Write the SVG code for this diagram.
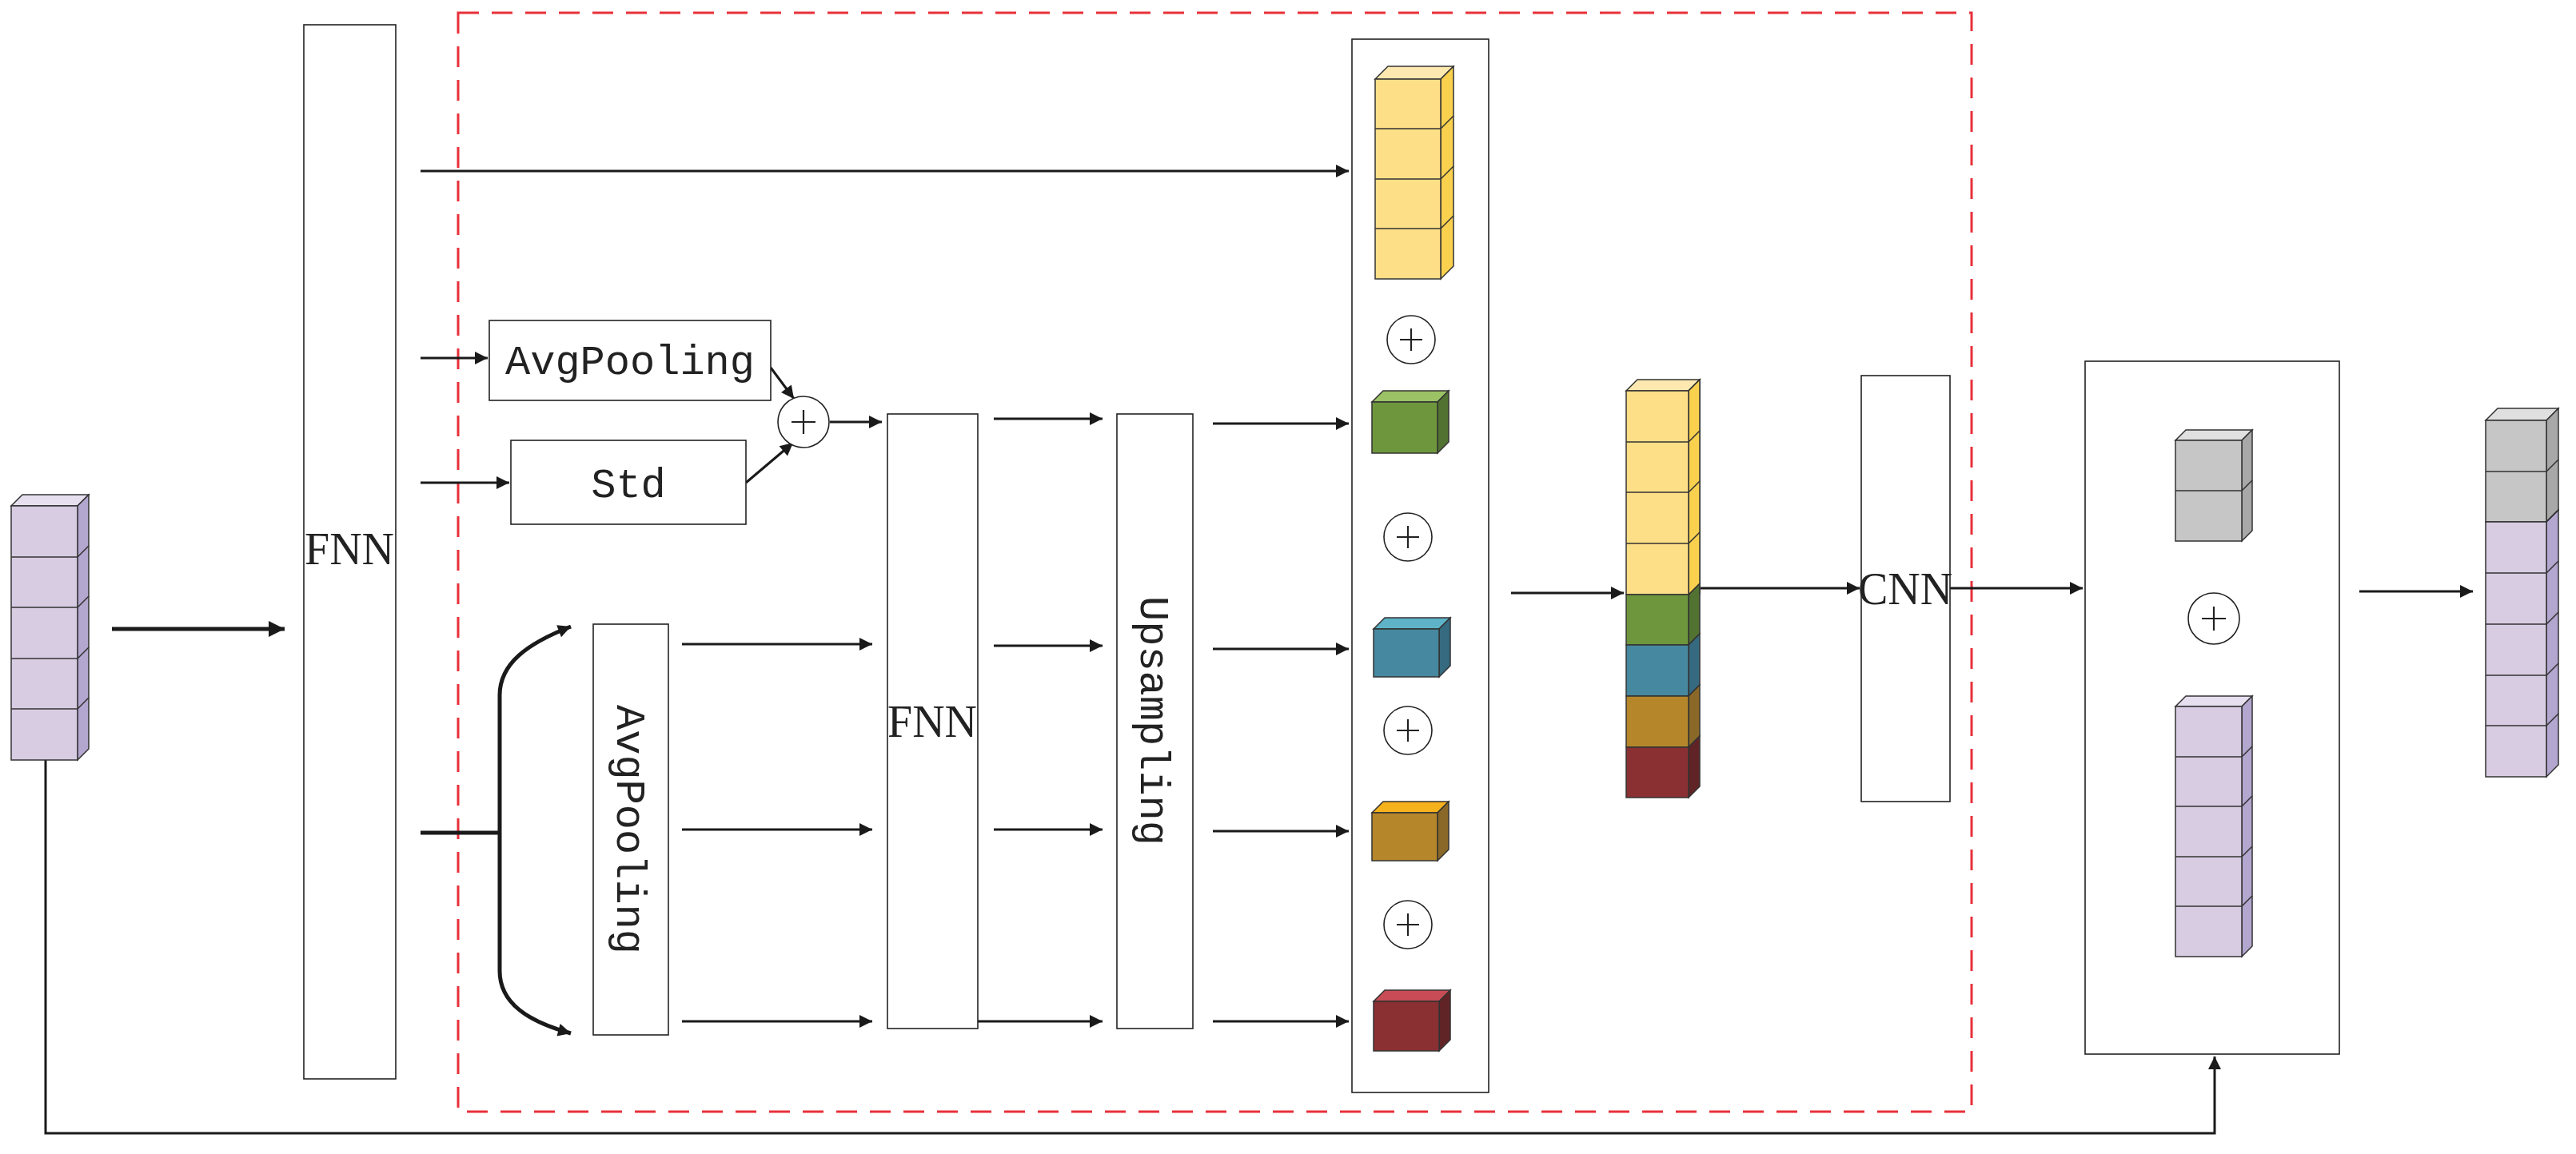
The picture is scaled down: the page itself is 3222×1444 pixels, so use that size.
<svg xmlns="http://www.w3.org/2000/svg" width="3222" height="1444" viewBox="0 0 3222 1444">
<style>
.box{fill:#fff;stroke:#222;stroke-width:1.6}
.ln{fill:none;stroke:#1a1a1a;stroke-width:3}
.thick{fill:none;stroke:#1a1a1a;stroke-width:5}
.cell{stroke:#333;stroke-width:1.5}
.t{font-family:"Liberation Mono",monospace;font-size:52px;fill:#222}
.s{font-family:"Liberation Serif",serif;font-size:56px;fill:#222}
.pl{fill:#fff;stroke:#222;stroke-width:1.6}
.pls{stroke:#222;stroke-width:2.2}
</style>
<defs>
<marker id="ah" viewBox="0 0 10 10" refX="10" refY="5" markerWidth="8" markerHeight="6" markerUnits="userSpaceOnUse" orient="auto" style="overflow:visible">
<path d="M0,0 L10,5 L0,10 z" fill="#1a1a1a"/>
</marker>
<marker id="a" viewBox="0 0 10 10" refX="10" refY="5" markerWidth="24" markerHeight="16" markerUnits="userSpaceOnUse" orient="auto">
<path d="M0,0 L10,5 L0,10 z" fill="#1a1a1a"/>
</marker>
<marker id="ab" viewBox="0 0 10 10" refX="10" refY="5" markerWidth="30" markerHeight="20" markerUnits="userSpaceOnUse" orient="auto">
<path d="M0,0 L10,5 L0,10 z" fill="#1a1a1a"/>
</marker>
</defs>
<rect width="3222" height="1444" fill="#fff"/>

<rect id="dashed" x="573" y="16" width="1893" height="1375" fill="none" stroke="#e8303a" stroke-width="3" stroke-dasharray="26,16"/>

<g id="connectors">
<line class="thick" x1="140" y1="787" x2="356" y2="787" marker-end="url(#ab)"/>
<polyline class="ln" points="57,951 57,1418 2770,1418 2770,1322" marker-end="url(#a)"/>
<line class="ln" x1="526" y1="214" x2="1687" y2="214" marker-end="url(#a)"/>
<line class="ln" x1="526" y1="448" x2="610" y2="448" marker-end="url(#a)"/>
<line class="ln" x1="526" y1="604" x2="637" y2="604" marker-end="url(#a)"/>
<line class="ln" x1="964" y1="460" x2="993" y2="499" marker-end="url(#a)"/>
<line class="ln" x1="933" y1="604" x2="992" y2="554" marker-end="url(#a)"/>
<line class="ln" x1="1038" y1="528" x2="1103" y2="528" marker-end="url(#a)"/>
<line class="thick" x1="526" y1="1042" x2="625" y2="1042"/>
<path class="thick" d="M625,1042 V870 C625,830 660,805 714,784" marker-end="url(#a)"/>
<path class="thick" d="M625,1042 V1215 C625,1255 660,1278 714,1293" marker-end="url(#a)"/>
<line class="ln" x1="853" y1="806" x2="1091" y2="806" marker-end="url(#a)"/>
<line class="ln" x1="853" y1="1038" x2="1091" y2="1038" marker-end="url(#a)"/>
<line class="ln" x1="853" y1="1278" x2="1091" y2="1278" marker-end="url(#a)"/>
<line class="ln" x1="1243" y1="524" x2="1379" y2="524" marker-end="url(#a)"/>
<line class="ln" x1="1243" y1="808" x2="1379" y2="808" marker-end="url(#a)"/>
<line class="ln" x1="1243" y1="1038" x2="1379" y2="1038" marker-end="url(#a)"/>
<line class="ln" x1="1223" y1="1278" x2="1379" y2="1278" marker-end="url(#a)"/>
<line class="ln" x1="1517" y1="530" x2="1687" y2="530" marker-end="url(#a)"/>
<line class="ln" x1="1517" y1="812" x2="1687" y2="812" marker-end="url(#a)"/>
<line class="ln" x1="1517" y1="1040" x2="1687" y2="1040" marker-end="url(#a)"/>
<line class="ln" x1="1517" y1="1278" x2="1687" y2="1278" marker-end="url(#a)"/>
<line class="ln" x1="1890" y1="742" x2="2031" y2="742" marker-end="url(#a)"/>
<line class="ln" x1="2127" y1="736" x2="2326" y2="736" marker-end="url(#a)"/>
<line class="ln" x1="2439" y1="736" x2="2605" y2="736" marker-end="url(#a)"/>
<line class="ln" x1="2951" y1="740" x2="3093" y2="740" marker-end="url(#a)"/>
</g>

<g id="fnn1"><rect class="box" x="380" y="31" width="115" height="1319"/><text class="s" x="437" y="706" text-anchor="middle">FNN</text></g>
<g id="avgpool1"><rect class="box" x="612" y="401" width="352" height="100"/><text class="t" x="788" y="468" text-anchor="middle">AvgPooling</text></g>
<g id="std"><rect class="box" x="639" y="551" width="294" height="105"/><text class="t" x="786" y="622" text-anchor="middle">Std</text></g>
<g id="plus0"><circle class="pl" cx="1005" cy="528" r="32"/><path class="pls" d="M990,528H1020M1005,513V543"/></g>
<g id="avgpool2"><rect class="box" x="742" y="781" width="94" height="514"/><text class="t" transform="translate(772,1038) rotate(90)" text-anchor="middle">AvgPooling</text></g>
<g id="fnn2"><rect class="box" x="1110" y="518" width="113" height="769"/><text class="s" x="1166" y="922" text-anchor="middle">FNN</text></g>
<g id="upsampling"><rect class="box" x="1397" y="518" width="95" height="769"/><text class="t" transform="translate(1427,902) rotate(90)" text-anchor="middle">Upsampling</text></g>
<g id="concatbox"><rect class="box" x="1691" y="49" width="171" height="1318"/></g>
<g id="cnn"><rect class="box" x="2328" y="470" width="111" height="533"/><text class="s" x="2383" y="756" text-anchor="middle">CNN</text></g>
<g id="addbox"><rect class="box" x="2608" y="452" width="318" height="867"/></g>

<g id="plus1"><circle class="pl" cx="1765" cy="425" r="30"/><path class="pls" d="M1751,425H1779M1765,411V439"/></g>
<g id="plus2"><circle class="pl" cx="1761" cy="672" r="30"/><path class="pls" d="M1747,672H1775M1761,658V686"/></g>
<g id="plus3"><circle class="pl" cx="1761" cy="914" r="30"/><path class="pls" d="M1747,914H1775M1761,900V928"/></g>
<g id="plus4"><circle class="pl" cx="1761" cy="1157" r="30"/><path class="pls" d="M1747,1157H1775M1761,1143V1171"/></g>
<g id="plus5"><circle class="pl" cx="2769" cy="774" r="32"/><path class="pls" d="M2754,774H2784M2769,759V789"/></g>

<!-- input stack -->
<g id="input-stack" class="cell">
<polygon points="14,633 28,619 111,619 97,633" fill="#e6dff0"/>
<polygon points="97,633 111,619 111,937 97,951" fill="#b3a6cf"/>
<rect x="14" y="633" width="83" height="318" fill="#d8cce3"/>
<path d="M14,697H97M14,760H97M14,824H97M14,887H97M97,697L111,683M97,760L111,746M97,824L111,810M97,887L111,873" fill="none"/>
</g>

<g id="yellow-stack" class="cell">
<polygon points="1720,99 1736,83 1818,83 1802,99" fill="#fde9b0"/>
<polygon points="1802,99 1818,83 1818,333 1802,349" fill="#f9d14e"/>
<rect x="1720" y="99" width="82" height="250" fill="#fddf87"/>
<path d="M1720,161H1802M1720,224H1802M1720,286H1802M1802,161L1818,145M1802,224L1818,208M1802,286L1818,270" fill="none"/>
</g>
<g id="green-block" class="cell">
<polygon points="1716,503 1730,489 1812,489 1798,503" fill="#9bc264"/>
<polygon points="1798,503 1812,489 1812,553 1798,567" fill="#527232"/>
<rect x="1716" y="503" width="82" height="64" fill="#6e963c"/>
</g>
<g id="blue-block" class="cell">
<polygon points="1718,787 1732,773 1814,773 1800,787" fill="#5fb3c8"/>
<polygon points="1800,787 1814,773 1814,833 1800,847" fill="#366a80"/>
<rect x="1718" y="787" width="82" height="60" fill="#46889f"/>
</g>
<g id="gold-block" class="cell">
<polygon points="1716,1017 1730,1003 1812,1003 1798,1017" fill="#f5b21c"/>
<polygon points="1798,1017 1812,1003 1812,1063 1798,1077" fill="#8a6828"/>
<rect x="1716" y="1017" width="82" height="60" fill="#b5862a"/>
</g>
<g id="red-block" class="cell">
<polygon points="1718,1253 1732,1239 1814,1239 1800,1253" fill="#c84c55"/>
<polygon points="1800,1253 1814,1239 1814,1301 1800,1315" fill="#612426"/>
<rect x="1718" y="1253" width="82" height="62" fill="#8a3033"/>
</g>

<g id="concat-stack" class="cell">
<polygon points="2034,489 2048,475 2126,475 2112,489" fill="#fde9b0"/>
<polygon points="2112,489 2126,475 2126,743 2112,744" fill="#f9d14e"/>
<polygon points="2112,744 2126,730 2126,793 2112,807" fill="#527232"/>
<polygon points="2112,807 2126,793 2126,857 2112,871" fill="#366a80"/>
<polygon points="2112,871 2126,857 2126,921 2112,935" fill="#8a6828"/>
<polygon points="2112,935 2126,921 2126,984 2112,998" fill="#612426"/>
<polygon points="2112,489 2126,475 2126,730 2112,744" fill="#f9d14e"/>
<rect x="2034" y="489" width="78" height="255" fill="#fddf87"/>
<rect x="2034" y="744" width="78" height="63" fill="#6e963c"/>
<rect x="2034" y="807" width="78" height="64" fill="#46889f"/>
<rect x="2034" y="871" width="78" height="64" fill="#b5862a"/>
<rect x="2034" y="935" width="78" height="63" fill="#8a3033"/>
<path d="M2034,553H2112M2034,616H2112M2034,680H2112M2112,553L2126,539M2112,616L2126,602M2112,680L2126,666" fill="none"/>
</g>

<g id="gray-stack" class="cell">
<polygon points="2721,551 2734,538 2817,538 2804,551" fill="#e0e0e0"/>
<polygon points="2804,551 2817,538 2817,664 2804,677" fill="#a8a8a8"/>
<rect x="2721" y="551" width="83" height="126" fill="#c6c6c6"/>
<path d="M2721,614H2804M2804,614L2817,601" fill="none"/>
</g>
<g id="residual-stack" class="cell">
<polygon points="2721,884 2734,871 2817,871 2804,884" fill="#e6dff0"/>
<polygon points="2804,884 2817,871 2817,1184 2804,1197" fill="#b3a6cf"/>
<rect x="2721" y="884" width="83" height="313" fill="#d8cce3"/>
<path d="M2721,947H2804M2721,1009H2804M2721,1072H2804M2721,1134H2804M2804,947L2817,934M2804,1009L2817,996M2804,1072L2817,1059M2804,1134L2817,1121" fill="none"/>
</g>

<g id="output-stack" class="cell">
<polygon points="3109,526 3124,511 3200,511 3185,526" fill="#e0e0e0"/>
<polygon points="3185,526 3200,511 3200,638 3185,653" fill="#a8a8a8"/>
<polygon points="3185,653 3200,638 3200,957 3185,972" fill="#b3a6cf"/>
<rect x="3109" y="526" width="76" height="127" fill="#c6c6c6"/>
<rect x="3109" y="653" width="76" height="319" fill="#d8cce3"/>
<path d="M3109,590H3185M3109,717H3185M3109,781H3185M3109,845H3185M3109,908H3185M3185,590L3200,575M3185,653L3200,638M3185,717L3200,702M3185,781L3200,766M3185,845L3200,830M3185,908L3200,893" fill="none"/>
</g>
</svg>
